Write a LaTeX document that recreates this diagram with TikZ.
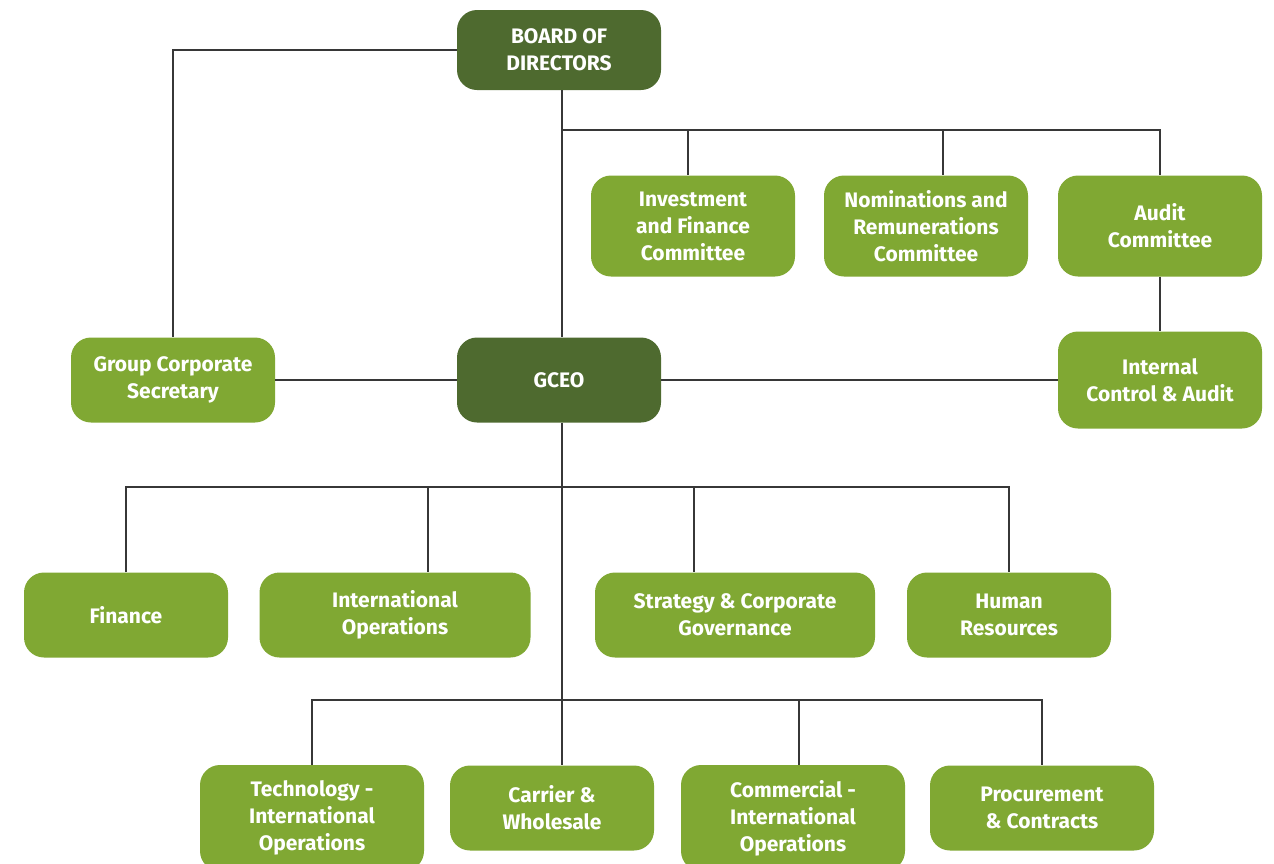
\documentclass[tikz,border=0pt]{standalone}
\usepackage{fontspec}
\setmainfont{Fira Sans}
\usetikzlibrary{positioning}
\definecolor{boarddark}{RGB}{78,106,47}
\definecolor{unitgreen}{RGB}{128,168,51}
\definecolor{linkgrey}{RGB}{55,55,55}
\tikzset{
  basebox/.style={
    rectangle, rounded corners=20pt, align=center, text=white, inner sep=2pt,
    font=\fontsize{21}{27}\selectfont\bfseries, minimum width=204pt, minimum height=85pt
  },
  headbox/.style={basebox, fill=boarddark},
  unitbox/.style={basebox, fill=unitgreen},
  link/.style={draw=linkgrey, line width=1.1pt}
}

\begin{document}
\begin{tikzpicture}[x=1pt, y=-1pt]
  \useasboundingbox (0,0) rectangle (1274,863);

  % board and chief executive
  \node[headbox, minimum height=80pt] (board) at (559,50) {BOARD OF\\DIRECTORS};
  \node[headbox] (gceo) at (559,380) {GCEO};

  % board committees
  \node[unitbox, minimum height=101pt] (invest) at (693,226) {Investment\\and Finance\\Committee};
  \node[unitbox, minimum height=101pt] (nomin) at (926,226) {Nominations and\\Remunerations\\Committee};
  \node[unitbox, minimum height=101pt] (audit) at (1160,226) {Audit\\Committee};
  \node[unitbox, minimum height=97pt] (internal) at (1160,380) {Internal\\Control \& Audit};
  \node[unitbox] (secretary) at (173,380) {Group Corporate\\Secretary};

  % first row of departments
  \node[unitbox] (finance) at (126,615) {Finance};
  \node[unitbox, minimum width=271pt] (intl) at (395,615) {International\\Operations};
  \node[unitbox, minimum width=280pt] (strategy) at (735,615) {Strategy \& Corporate\\Governance};
  \node[unitbox] (hr) at (1009,615) {Human\\Resources};

  % second row of departments (taller boxes run off the lower edge)
  \node[unitbox, minimum width=224pt, minimum height=106pt] (tech) at (312,818) {Technology -\\International\\Operations};
  \node[unitbox] (carrier) at (552,808) {Carrier \&\\Wholesale};
  \node[unitbox, minimum width=224pt, minimum height=106pt] (commercial) at (793,818) {Commercial -\\International\\Operations};
  \node[unitbox, minimum width=224pt] (procure) at (1042,808) {Procurement\\\& Contracts};

  % bus lines
  \coordinate (combus) at (562,130);
  \coordinate (unitbus) at (562,487);
  \coordinate (deptbus) at (562,700);
  \coordinate (investdrop) at (688,130);
  \coordinate (nomindrop) at (943,130);
  \coordinate (intldrop) at (428,487);
  \coordinate (stratdrop) at (694,487);
  \coordinate (commdrop) at (799,700);

  \draw[link] (board.west) -| (secretary.north);
  \draw[link] (board.south -| combus) -- (gceo.north -| combus);
  \draw[link] (combus) -| (audit.north);
  \draw[link] (investdrop) -- (investdrop |- invest.north);
  \draw[link] (nomindrop) -- (nomindrop |- nomin.north);
  \draw[link] (audit) -- (internal);
  \draw[link] (gceo) -- (secretary);
  \draw[link] (gceo) -- (internal);

  \draw[link] (gceo.south -| deptbus) -- (carrier.north -| deptbus);
  \draw[link] (finance.north) |- (unitbus) -| (hr.north);
  \draw[link] (intldrop) -- (intldrop |- intl.north);
  \draw[link] (stratdrop) -- (stratdrop |- strategy.north);
  \draw[link] (tech.north) |- (deptbus) -| (procure.north);
  \draw[link] (commdrop) -- (commdrop |- commercial.north);
\end{tikzpicture}
\end{document}
